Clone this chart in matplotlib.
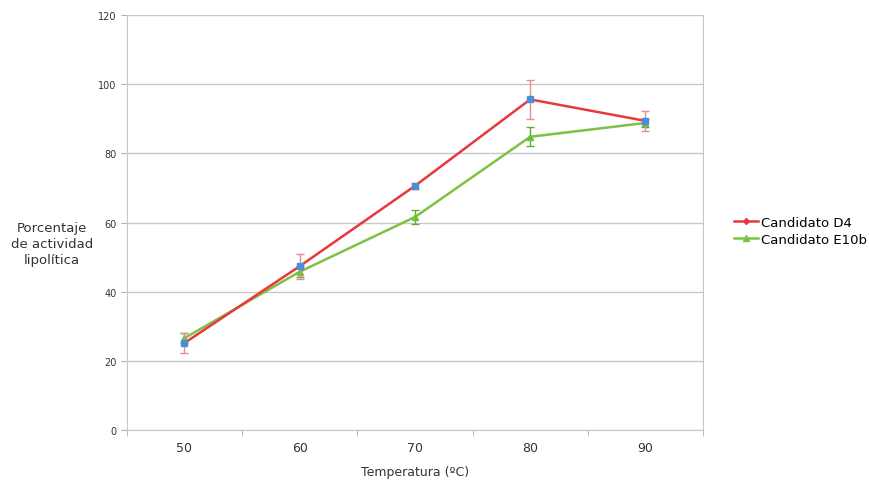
import matplotlib.pyplot as plt
import numpy as np

# Datos
temperaturas = ["50", "60", "70", "80", "90"]
d4 = [25.2, 47.4, 70.6, 95.6, 89.4]
d4_err = [3.0, 3.6, 0.8, 5.6, 2.8]
e10b = [26.6, 45.8, 61.6, 84.8, 88.8]
e10b_err = [1.4, 1.6, 2.0, 2.7, 1.2]
yticks = [0, 20, 40, 60, 80, 100, 120]

x = np.arange(len(temperaturas))

fig = plt.figure(figsize=(8.69, 4.85), dpi=100)
ax = fig.add_axes([0.146, 0.111, 0.663, 0.856])

# Candidato D4
ax.errorbar(x, d4, yerr=d4_err, color="#e8383d", lw=1.8, ecolor="#e88a8f",
            elinewidth=1, capsize=3, marker="s", ms=4, mfc="#4a90d9", mec="#4a90d9",
            zorder=3)
# Candidato E10b
ax.errorbar(x, e10b, yerr=e10b_err, color="#7ec242", lw=1.8, ecolor="#5fae2e",
            elinewidth=1, capsize=3, marker="^", ms=5, mfc="#6bbf3a", mec="#6bbf3a",
            zorder=2)

# Entradas de la leyenda
ax.plot([], [], color="#e8383d", lw=1.8, marker="D", ms=3, label="Candidato D4")
ax.plot([], [], color="#7ec242", lw=1.8, marker="^", ms=4, label="Candidato E10b")

ax.set_xlim(-0.5, len(temperaturas) - 0.5)
ax.set_ylim(0, 120)
ax.set_yticks(yticks)
ax.set_yticklabels([str(v) for v in yticks], fontsize=7, color="#333333")
ax.set_xticks(x)
ax.set_xticklabels(temperaturas, fontsize=9, color="#333333")
ax.tick_params(axis="x", length=0, pad=8)
ax.set_xticks(np.arange(-0.5, len(temperaturas)), minor=True)
ax.tick_params(axis="x", which="minor", length=4, color="#b0b0b0")
ax.tick_params(axis="y", length=4, color="#b0b0b0")

ax.grid(axis="y", color="#c8c8c8", lw=1)
ax.set_axisbelow(True)
for s in ["left", "bottom", "right"]:
    ax.spines[s].set_color("#c8c8c8")
ax.spines["top"].set_visible(False)

ax.set_xlabel("Temperatura (ºC)", fontsize=9, color="#333333", labelpad=8)
fig.text(0.060, 0.495, "Porcentaje\nde actividad\nlipolítica", ha="center", va="center",
         fontsize=9.5, color="#333333", linespacing=1.3)

fig.legend(loc="center left", bbox_to_anchor=(0.845, 0.522), frameon=False,
           fontsize=9.5, handlelength=1.8, handletextpad=0.2, labelspacing=0.3,
           borderaxespad=0, borderpad=0)

fig.savefig("out.png", dpi=100)
